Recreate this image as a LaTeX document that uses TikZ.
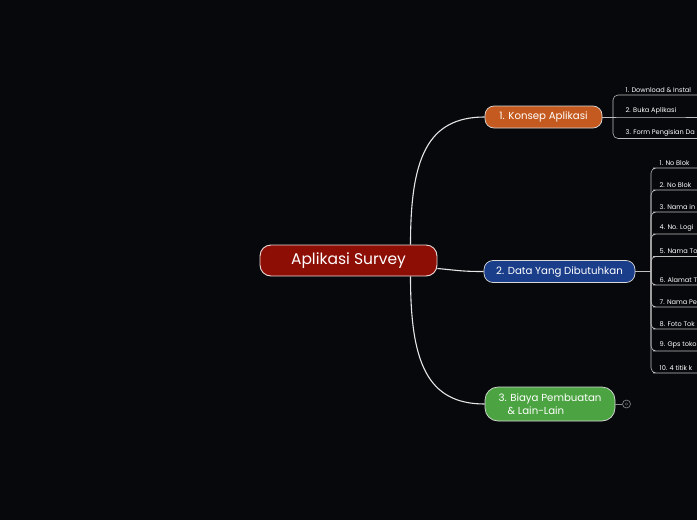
\documentclass[tikz,border=0pt]{standalone}
\usepackage{fontspec}
\setmainfont{Poppins}
\usepackage{xcolor}
\usepackage{tikz}
\usetikzlibrary{positioning}

\definecolor{latar}{HTML}{06080B}
\definecolor{merah}{HTML}{8C0E05}
\definecolor{oranye}{HTML}{C45A1F}
\definecolor{biru}{HTML}{1B3E8A}
\definecolor{hijau}{HTML}{4BA441}
\definecolor{garis}{HTML}{E6E6E6}

\begin{document}
\begin{tikzpicture}[x=1pt, y=-1pt,
  pusat/.style={draw=white!85!merah, line width=0.9pt, fill=merah, rounded corners=11pt,
    minimum width=177pt, minimum height=31pt, text=white, font=\fontsize{15.5}{17}\selectfont},
  cabang/.style={draw=white!85!black, line width=0.7pt, rounded corners=9pt,
    minimum height=22pt, text=white, font=\fontsize{10.2}{12.5}\selectfont},
  oranye/.style={cabang, fill=oranye, minimum width=117pt},
  biru/.style={cabang, fill=biru, minimum width=151pt},
  hijau/.style={cabang, fill=hijau, minimum width=130pt, minimum height=34pt,
    rounded corners=13pt, align=left},
  daun/.style={anchor=south west, inner xsep=1.5pt, inner ysep=2.5pt, text=white,
    font=\fontsize{6.6}{8}\selectfont},
  sambung/.style={draw=garis, line width=1.1pt},
  ranting/.style={draw=white!75!black, line width=0.55pt, rounded corners=5pt}
]
  \fill[latar] (0,0) rectangle (697,520);
  \clip (0,0) rectangle (697,520);

  % simpul utama
  \node[pusat] (inti) at (348.5,260.5) {Aplikasi Survey};
  \node[oranye] (k) at (543.5,117) {1. Konsep Aplikasi};
  \node[biru] (d) at (559.5,271.5) {2. Data Yang Dibutuhkan};
  \node[hijau] (b) at (550,404) {3. Biaya Pembuatan\\\hspace*{0.9em}\& Lain-Lain};
  \node[circle, draw=white!55!black, line width=0.6pt, minimum size=8pt, inner sep=0pt] (lipat) at (626.5,404) {};
  \fill[white!55!black] (lipat) circle (1.4pt);
  \fill[latar] (lipat) circle (0.9pt);

  \draw[sambung] ([xshift=62pt]inti.north) .. controls +(0,-85) and +(-58,0) .. (k.west);
  \draw[sambung] ([yshift=-8pt]inti.east) .. controls +(22,2) and +(-22,0) .. (d.west);
  \draw[sambung] ([xshift=62pt]inti.south) .. controls +(0,85) and +(-58,0) .. (b.west);
  \draw[draw=white!55!black, line width=0.6pt] (b.east) -- (lipat.west);

  % daun konsep
  \coordinate (kt) at (613,117);
  \node[daun] (k1) at (624,95) {1. Download \& Instal};
  \node[daun] (k2) at (624,117) {2. Buka Aplikasi};
  \node[daun] (k3) at (624,138.5) {3. Form Pengisian Da};
  \draw[ranting] (k.east) -- (kt);
  \foreach \n in {k1,k3}
    \draw[ranting] (kt) |- (\n.south west) -- +(120,0);
  \draw[ranting] (kt) -- (k2.south west) -- +(120,0);

  % daun data
  \coordinate (dt) at (651,271.5);
  \draw[ranting] (d.east) -- (dt);
  \foreach \i/\y/\t in {1/168/1. No Blok, 2/190/2. No Blok, 3/212/3. Nama in,
      4/234/4. No. Logi, 5/256.5/5. Nama To, 6/285/6. Alamat T,
      7/307/7. Nama Pe, 8/329/8. Foto Tok, 9/351/9. Gps toko, 10/373/10. 4 titik k} {
    \node[daun] (d\i) at (658,\y) {\t};
    \draw[ranting] (dt) |- (d\i.south west) -- +(80,0);
  }
\end{tikzpicture}
\end{document}
